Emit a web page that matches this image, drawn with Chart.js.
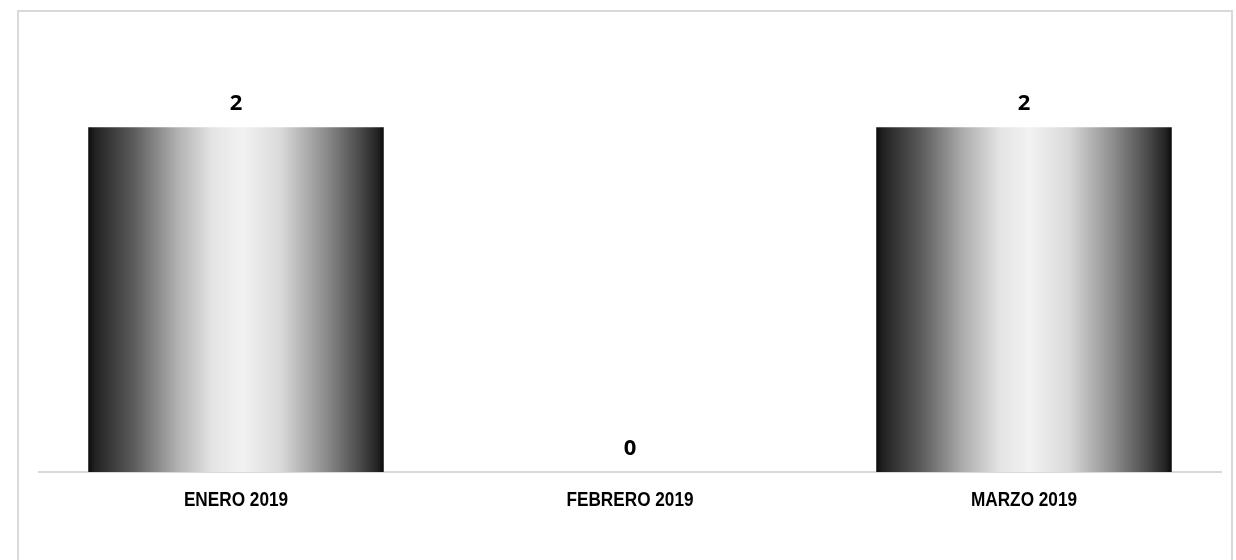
<!DOCTYPE html>
<html>
<head>
<meta charset="utf-8">
<script src="https://cdn.jsdelivr.net/npm/chart.js@4/dist/chart.umd.min.js"></script>
<style>
  html, body { margin: 0; padding: 0; background: #fff; overflow: hidden; }
  #frame {
    position: absolute; left: 17px; top: 10px; width: 1212px; height: 600px;
    border: 2px solid #d9d9d9; box-sizing: content-box;
  }
  #myChart { position: absolute; left: 0; top: 0; }
</style>
</head>
<body>
<div id="frame"></div>
<canvas id="myChart" width="1236" height="560"></canvas>
<script>
const months = ['ENERO 2019', 'FEBRERO 2019', 'MARZO 2019'];
const counts = [2, 0, 2];

// bar fill: dark edges, light middle (cylinder look)
function barFill(context) {
    const chart = context.chart;
    const x = chart.scales.x;
    if (!chart.chartArea || !x) return '#888';
    const cx = x.getPixelForValue(context.dataIndex);
    const half = (x.width / months.length) * 0.75 / 2;
    const g = chart.ctx.createLinearGradient(cx - half, 0, cx + half, 0);
    g.addColorStop(0, '#0a0a0a');
    g.addColorStop(0.02, '#202020');
    g.addColorStop(0.15, '#5a5a5a');
    g.addColorStop(0.3, '#b0b0b0');
    g.addColorStop(0.42, '#e4e4e4');
    g.addColorStop(0.52, '#f2f2f2');
    g.addColorStop(0.65, '#dadada');
    g.addColorStop(0.8, '#8e8e8e');
    g.addColorStop(0.92, '#4a4a4a');
    g.addColorStop(0.98, '#222222');
    g.addColorStop(1, '#0a0a0a');
    return g;
}

const valueLabels = {
    id: 'valueLabels',
    afterDatasetsDraw(chart) {
        const ctx = chart.ctx;
        const meta = chart.getDatasetMeta(0);
        ctx.save();
        ctx.font = 'bold 22px "Open Sans", sans-serif';
        ctx.fillStyle = '#000';
        ctx.textAlign = 'center';
        ctx.textBaseline = 'alphabetic';
        meta.data.forEach((bar, i) => {
            ctx.fillText(String(counts[i]), bar.x, bar.y - 17);
        });
        ctx.restore();
    }
};

// no narrow font installed, so squeeze the category labels by hand
const narrowTicks = {
    id: 'narrowTicks',
    afterDraw(chart) {
        const ctx = chart.ctx;
        const x = chart.scales.x;
        ctx.save();
        ctx.font = 'bold 20px "Liberation Sans", Arial, sans-serif';
        ctx.fillStyle = '#000';
        ctx.textAlign = 'center';
        ctx.textBaseline = 'alphabetic';
        months.forEach((m, i) => {
            const px = x.getPixelForTick(i);
            ctx.save();
            ctx.translate(px, x.top + 34);
            ctx.scale(0.86, 1);
            ctx.fillText(m, 0, 0);
            ctx.restore();
        });
        ctx.restore();
    }
};

const ctx = document.getElementById('myChart').getContext('2d');
const myChart = new Chart(ctx, {
    type: 'bar',
    data: {
        labels: months,
        datasets: [{
            data: counts,
            backgroundColor: barFill,
            borderWidth: 0,
            barPercentage: 0.75,
            categoryPercentage: 1
        }]
    },
    options: {
        responsive: false,
        animation: false,
        layout: { padding: { left: 39, right: 15, top: 41, bottom: 0 } },
        plugins: {
            legend: { display: false },
            tooltip: { enabled: false }
        },
        scales: {
            x: {
                grid: { display: false, drawTicks: false },
                border: { display: true, color: '#d9d9d9', width: 2 },
                ticks: { display: false },
                afterFit(scale) { scale.height = 88; }
            },
            y: {
                display: false,
                min: 0,
                max: 2.5
            }
        }
    },
    plugins: [valueLabels, narrowTicks]
});
</script>
</body>
</html>
